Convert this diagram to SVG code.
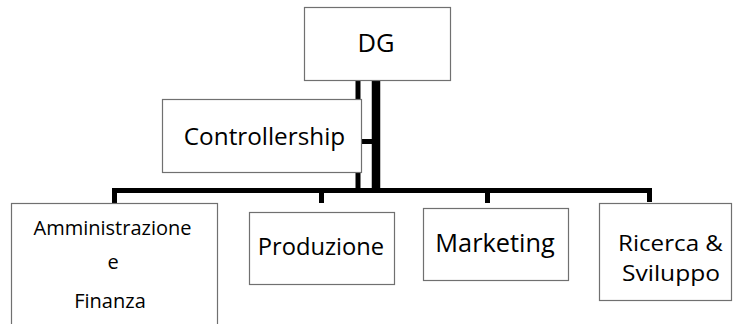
<svg xmlns="http://www.w3.org/2000/svg" width="733" height="324" viewBox="0 0 733 324">
<style>
.box{fill:#fff;stroke:#707070;stroke-width:1.2}
.t{font-family:"Open Sans","Noto Sans",sans-serif;fill:#000;text-anchor:middle}
.c{fill:none;stroke:#000;stroke-linejoin:miter;stroke-linecap:butt}
</style>
<rect width="733" height="324" fill="#fff"/>
<g id="connectors">
<line class="c" x1="358" y1="80" x2="358" y2="190" stroke-width="5"/>
<line class="c" x1="376" y1="80" x2="376" y2="190" stroke-width="8.5"/>
<line class="c" x1="361" y1="141.5" x2="372" y2="141.5" stroke-width="5"/>
<path class="c" d="M114.5,203 V190.5 H649.5 V202" stroke-width="5"/>
<line class="c" x1="321.5" y1="190" x2="321.5" y2="203" stroke-width="5"/>
<line class="c" x1="487.5" y1="190" x2="487.5" y2="203" stroke-width="5"/>
</g>
<g id="dg">
<rect class="box" x="304.5" y="7.5" width="146" height="73"/>
<text class="t" x="376" y="52" font-size="25.5">DG</text>
</g>
<g id="controllership">
<rect class="box" x="162.5" y="99.5" width="199" height="73"/>
<text class="t" x="264.5" y="145" font-size="24.3">Controllership</text>
</g>
<g id="amministrazione">
<rect class="box" x="11.5" y="203.5" width="206" height="130"/>
<text class="t" x="112.5" y="235" font-size="20">Amministrazione</text>
<text class="t" x="113" y="269" font-size="20">e</text>
<text class="t" x="110" y="308" font-size="20">Finanza</text>
</g>
<g id="produzione">
<rect class="box" x="249.5" y="212.5" width="145" height="72"/>
<text class="t" x="321" y="255" font-size="23.7">Produzione</text>
</g>
<g id="marketing">
<rect class="box" x="423.5" y="208.5" width="145" height="72"/>
<text class="t" x="495" y="252" font-size="25.3">Marketing</text>
</g>
<g id="ricerca">
<rect class="box" x="599.5" y="203.5" width="132" height="97"/>
<text class="t" x="670.5" y="251" font-size="22" textLength="105" lengthAdjust="spacingAndGlyphs">Ricerca &amp;</text>
<text class="t" x="671" y="281" font-size="22" textLength="98" lengthAdjust="spacingAndGlyphs">Sviluppo</text>
</g>
</svg>
